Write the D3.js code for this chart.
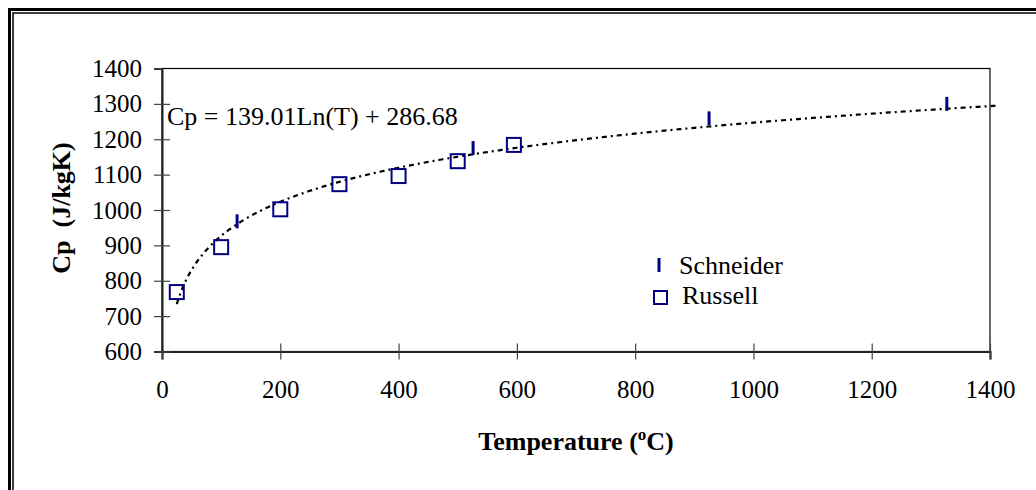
<!DOCTYPE html>
<html><head><meta charset="utf-8">
<script src="https://cdn.jsdelivr.net/npm/d3@7"></script>
<style>body{margin:0;background:#fff}svg{display:block}text{font-family:"Liberation Serif","Times New Roman",serif}</style>
</head><body><svg id="c" width="1036" height="490"></svg>
<script>
const russellT = [25, 100, 200, 300, 400, 500, 595];
const russellCp = [768, 895, 1002, 1073, 1096, 1138, 1184];
const schneiderT = [127, 526, 925, 1327];
const schneiderCp = [968, 1175, 1259, 1300];
const xTicks = [0, 200, 400, 600, 800, 1000, 1200, 1400];
const yTicks = [600, 700, 800, 900, 1000, 1100, 1200, 1300, 1400];
const trendA = 139.01, trendB = 286.68;
const trendRange = [25, 1410];
const seriesNames = ["Schneider", "Russell"];

const svg = d3.select("#c");
const L = 162, R = 990, T = 68.5, B = 351.5;
const x = d3.scaleLinear().domain([0, 1400]).range([L, R]);
const y = d3.scaleLinear().domain([600, 1400]).range([B, T]);
const FS = 25;

// outer double border
svg.append("path").attr("d", "M9.5,490 V9.5 H1036").attr("fill","none").attr("stroke","#000").attr("stroke-width",3);
svg.append("path").attr("d", "M13,490 V13 H1036").attr("fill","none").attr("stroke","#000").attr("stroke-width",1.5);

// plot area border
svg.append("rect").attr("x", L).attr("y", T).attr("width", R - L).attr("height", B - T)
  .attr("fill", "none").attr("stroke", "#000").attr("stroke-width", 1.2);

// axes
const xAxis = d3.axisBottom(x).tickValues(xTicks).tickSize(8).tickPadding(21).tickFormat(d3.format("d"));
const gx = svg.append("g").attr("transform", `translate(0,${B})`).call(xAxis);
gx.select(".domain").attr("stroke", "#222").attr("stroke-width", 2.2);
gx.selectAll(".tick line").attr("y1", -8).attr("y2", 8).attr("stroke", "#444").attr("stroke-width", 1.2);
gx.selectAll(".tick text").attr("font-size", FS).attr("fill", "#000").attr("font-family", "Liberation Serif");

const yAxis = d3.axisLeft(y).tickValues(yTicks).tickSize(8).tickPadding(12).tickFormat(d3.format("d"));
const gy = svg.append("g").attr("transform", `translate(${L},0)`).call(yAxis);
gy.select(".domain").attr("stroke", "#222").attr("stroke-width", 2);
gy.selectAll(".tick line").attr("x1", -8).attr("x2", 8).attr("stroke", "#444").attr("stroke-width", 1.2);
gy.selectAll(".tick text").attr("font-size", FS).attr("fill", "#000").attr("font-family", "Liberation Serif");
gy.selectAll(".tick").filter(d => d === 1400).select("line").attr("x2", 0);

// trendline
const tSamples = d3.range(trendRange[0], trendRange[1] + 1, 5);
const line = d3.line().x(t => x(t)).y(t => y(trendA * Math.log(t) + trendB));
svg.append("path").datum(tSamples).attr("d", line).attr("fill", "none")
  .attr("stroke", "#000").attr("stroke-width", 2.2).attr("stroke-dasharray", "5,4,2,4");

// Russell squares
const sq = 14;
svg.append("g").selectAll("rect").data(russellT.map((t, i) => [t, russellCp[i]])).join("rect")
  .attr("x", d => x(d[0]) - sq / 2).attr("y", d => y(d[1]) - sq / 2)
  .attr("width", sq).attr("height", sq).attr("fill", "none").attr("stroke", "#000080").attr("stroke-width", 2);

// Schneider dashes
svg.append("g").selectAll("line").data(schneiderT.map((t, i) => [t, schneiderCp[i]])).join("line")
  .attr("x1", d => x(d[0])).attr("x2", d => x(d[0]))
  .attr("y1", d => y(d[1]) - 7).attr("y2", d => y(d[1]) + 7)
  .attr("stroke", "#000080").attr("stroke-width", 3);

// equation
svg.append("text").attr("x", 167).attr("y", 125).attr("font-size", 26).text(`Cp = ${trendA.toFixed(2)}Ln(T) + ${trendB.toFixed(2)}`);

// legend
const lg = svg.append("g");
lg.append("line").attr("x1", 659).attr("x2", 659).attr("y1", 258).attr("y2", 272).attr("stroke", "#000080").attr("stroke-width", 3);
lg.append("text").attr("x", 679).attr("y", 274).attr("font-size", 26).text(seriesNames[0]);
lg.append("rect").attr("x", 654).attr("y", 291).attr("width", 13).attr("height", 13).attr("fill", "none").attr("stroke", "#000080").attr("stroke-width", 2);
lg.append("text").attr("x", 682).attr("y", 304).attr("font-size", 26).text(seriesNames[1]);

// axis titles
const xt = svg.append("text").attr("x", 576).attr("y", 450).attr("text-anchor", "middle").attr("font-size", 26).attr("font-weight", "bold");
xt.append("tspan").text("Temperature (");
xt.append("tspan").attr("font-size", 17).attr("dy", -10).text("o");
xt.append("tspan").attr("dy", 10).text("C)");

svg.append("text").attr("transform", "translate(70,208) rotate(-90)").attr("text-anchor", "middle")
  .attr("font-size", 26).attr("font-weight", "bold").attr("xml:space", "preserve").text("Cp  (J/kgK)");
</script></body></html>
